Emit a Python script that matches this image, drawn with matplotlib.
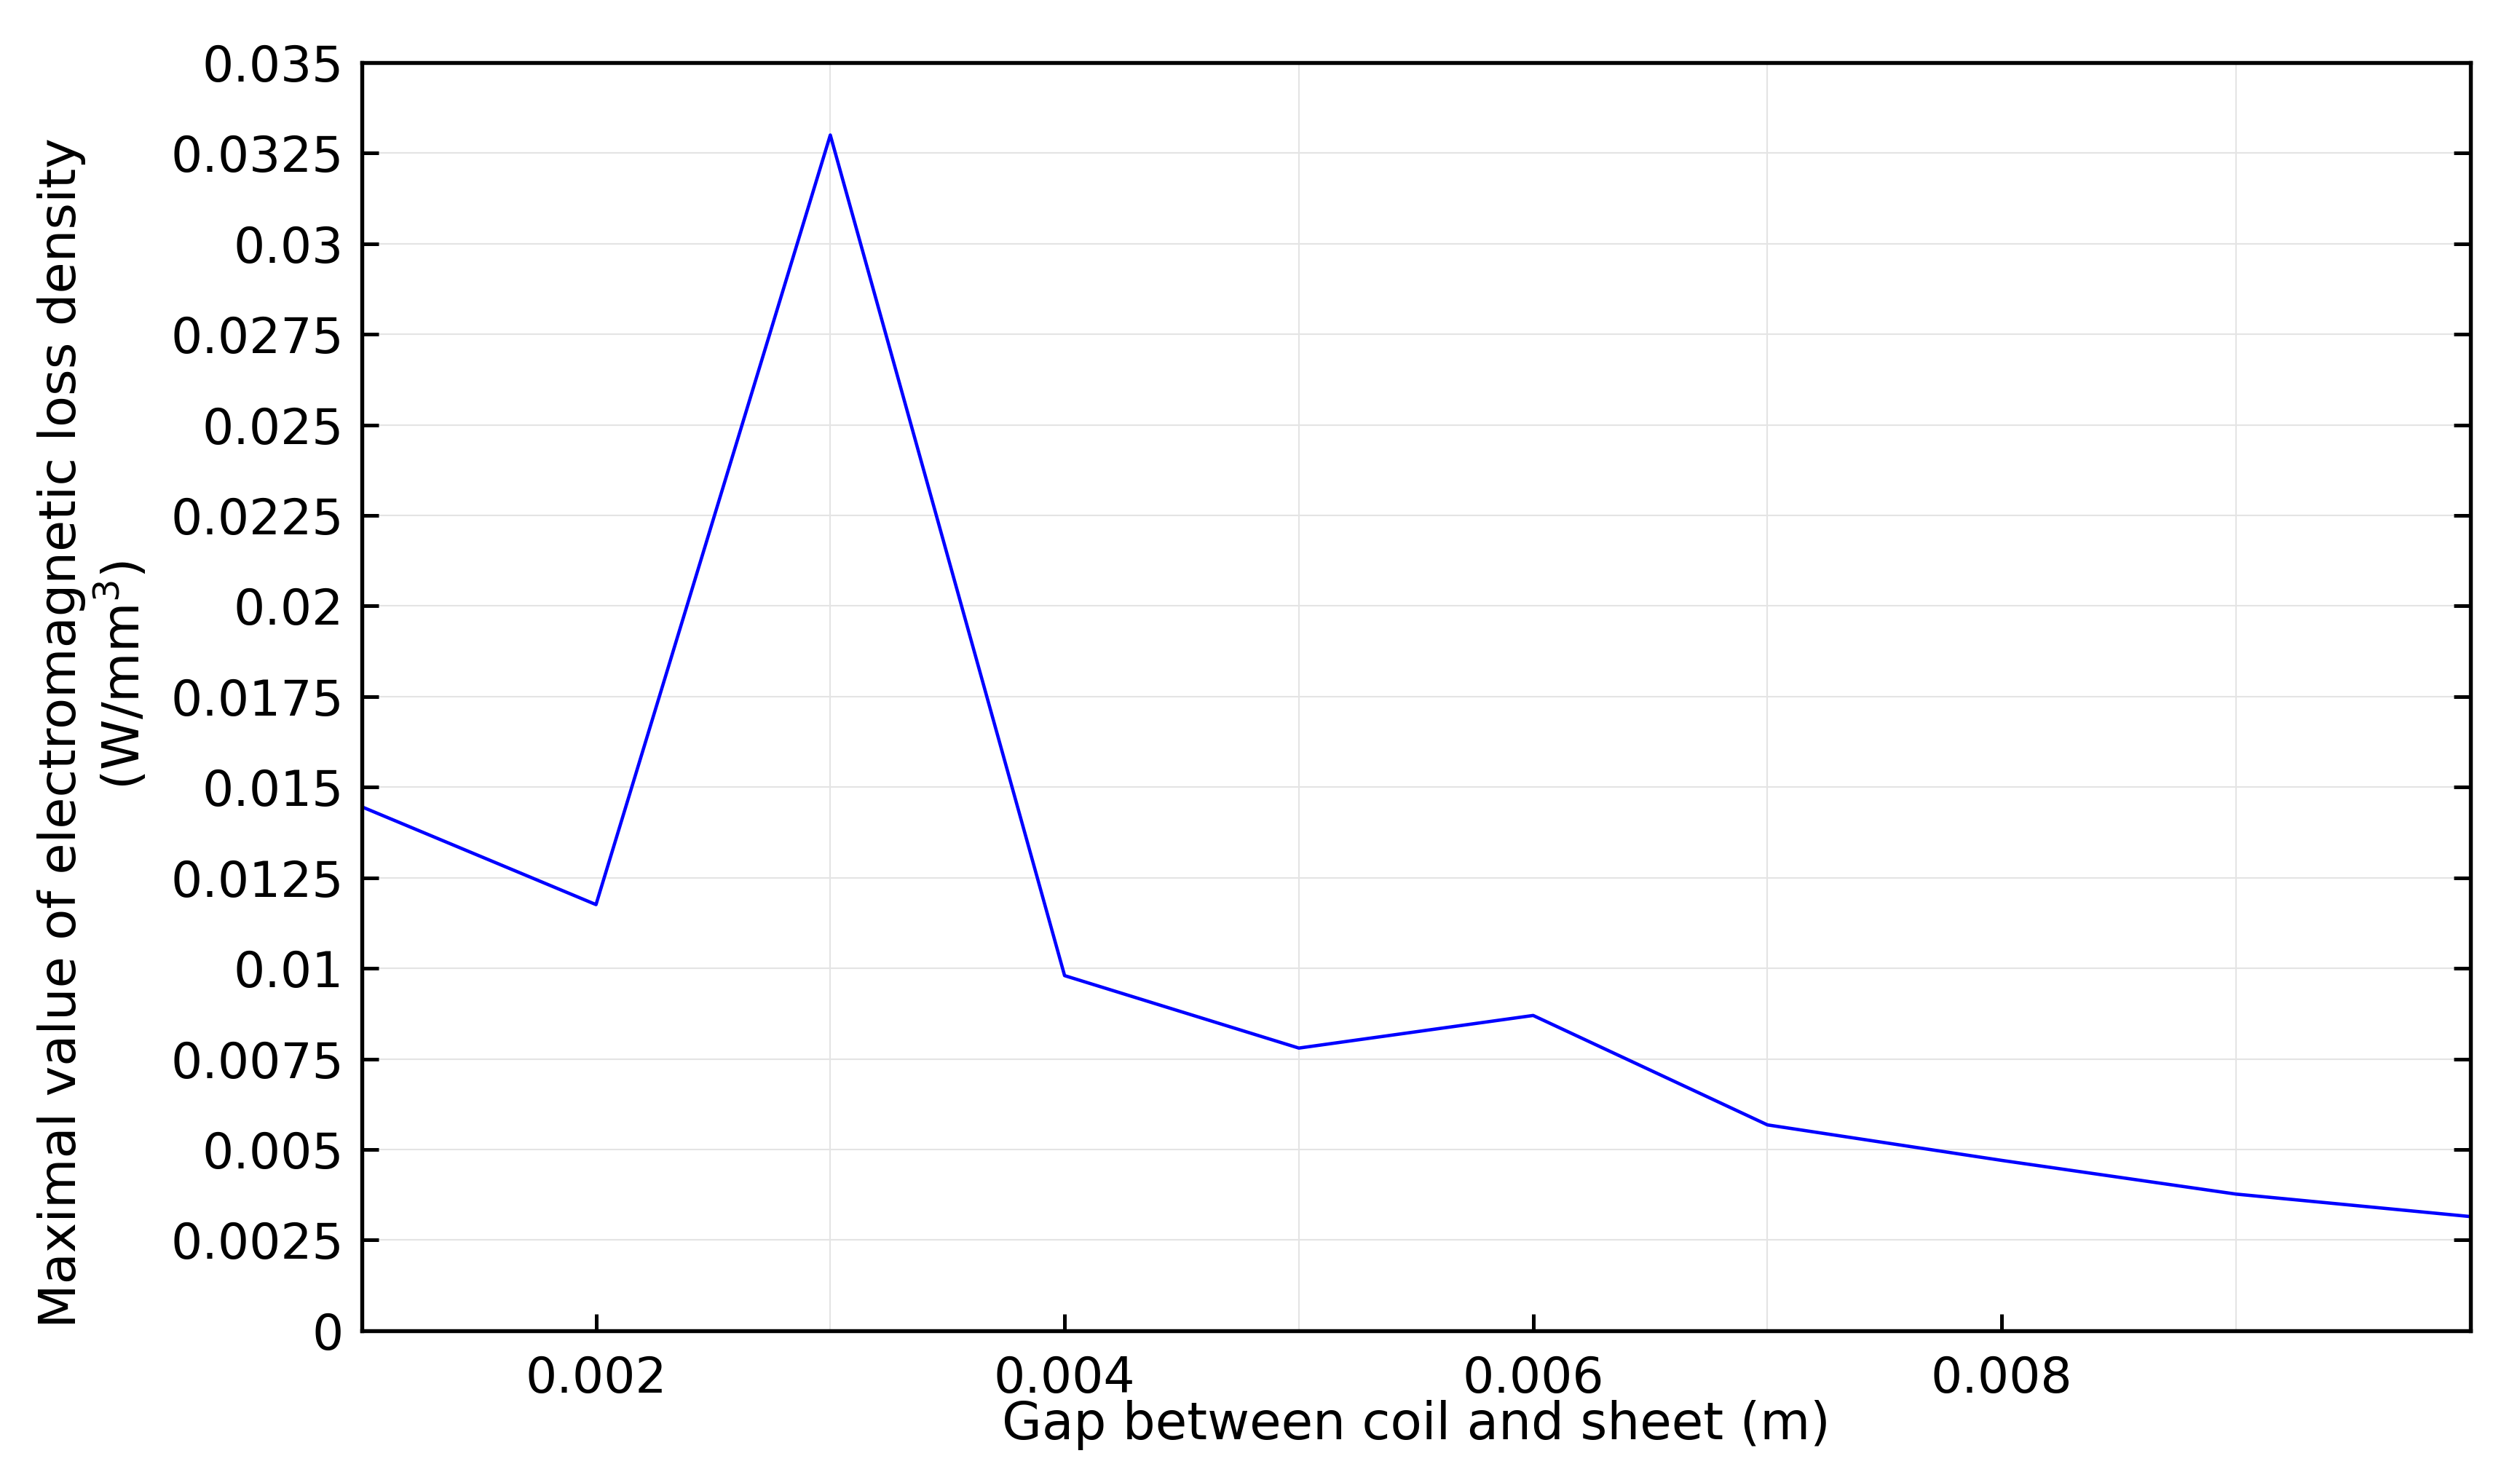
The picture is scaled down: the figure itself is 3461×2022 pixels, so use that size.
import numpy as np
import matplotlib.pyplot as plt
from matplotlib.ticker import MultipleLocator

# gap (m) and maximal EM loss density (W/mm^3)
gap = [0.001, 0.002, 0.003, 0.004, 0.005, 0.006, 0.007, 0.008, 0.009, 0.010]
loss = [0.01446, 0.01176, 0.0330, 0.0098, 0.0078, 0.0087, 0.00568, 0.0047, 0.00377, 0.00315]

x_ticks = [0.002, 0.004, 0.006, 0.008]
x_tick_labels = ["0.002", "0.004", "0.006", "0.008"]
y_ticks = np.arange(0, 0.0351, 0.0025)
y_tick_labels = ["0", "0.0025", "0.005", "0.0075", "0.01", "0.0125", "0.015", "0.0175",
                 "0.02", "0.0225", "0.025", "0.0275", "0.03", "0.0325", "0.035"]

plt.rcParams['font.family'] = ['DejaVu Sans']

fig = plt.figure(figsize=(11.54, 6.74), dpi=300)
ax = fig.add_axes([0.1435, 0.096, 0.8365, 0.8615])

ax.plot(gap, loss, color='#0000ff', linewidth=1.1)

ax.set_xlim(0.001, 0.010)
ax.set_ylim(0, 0.035)

ax.set_xticks(x_ticks)
ax.set_xticklabels(x_tick_labels)
ax.xaxis.set_minor_locator(MultipleLocator(0.001))
ax.set_yticks(y_ticks)
ax.set_yticklabels(y_tick_labels)

ax.grid(True, which='minor', axis='x', color='#e4e4e4', linewidth=0.5)
ax.grid(True, which='major', axis='y', color='#e4e4e4', linewidth=0.5)
ax.set_axisbelow(True)

ax.tick_params(axis='both', which='major', direction='in', length=5.5, width=1.2,
               labelsize=16.3, pad=6)
ax.tick_params(axis='x', which='major', pad=8)
ax.tick_params(axis='x', which='minor', length=0)
ax.tick_params(axis='y', right=True)
for s in ax.spines.values():
    s.set_linewidth(1.3)

ax.set_xlabel("Gap between coil and sheet (m)", fontsize=17, labelpad=-1)

# y label: two lines, the unit line sits a bit higher than the first
ax.set_ylabel("Maximal value of electromagnetic loss density", fontsize=16.9, va='center')
ax.yaxis.set_label_coords(-0.1425, 0.4715)
ax.text(-0.1135, 0.517, "(W/mm$^3$)", transform=ax.transAxes, rotation=90,
        ha='center', va='center', fontsize=16.9)

plt.savefig("out.png", dpi=300)
plt.close('all')
